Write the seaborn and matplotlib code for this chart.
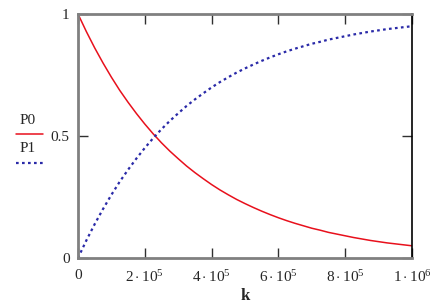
import numpy as np
import pandas as pd
import matplotlib
matplotlib.use('Agg')
import matplotlib.pyplot as plt
import seaborn as sns
from matplotlib.lines import Line2D

# values (every 25 000 in k)
k = [0, 25000, 50000, 75000, 100000, 125000, 150000, 175000, 200000, 225000, 250000,
     275000, 300000, 325000, 350000, 375000, 400000, 425000, 450000, 475000, 500000,
     525000, 550000, 575000, 600000, 625000, 650000, 675000, 700000, 725000, 750000,
     775000, 800000, 825000, 850000, 875000, 900000, 925000, 950000, 975000, 1000000]
p0 = [1.000, 0.928, 0.861, 0.799, 0.741, 0.687, 0.638, 0.592, 0.549, 0.509, 0.472,
      0.438, 0.407, 0.377, 0.350, 0.325, 0.301, 0.279, 0.259, 0.240, 0.223,
      0.207, 0.192, 0.178, 0.165, 0.153, 0.142, 0.132, 0.122, 0.114, 0.105,
      0.098, 0.091, 0.084, 0.078, 0.072, 0.067, 0.062, 0.058, 0.054, 0.050]
p1 = [0.000, 0.072, 0.139, 0.201, 0.259, 0.313, 0.362, 0.408, 0.451, 0.491, 0.528,
      0.562, 0.593, 0.623, 0.650, 0.675, 0.699, 0.721, 0.741, 0.760, 0.777,
      0.793, 0.808, 0.822, 0.835, 0.847, 0.858, 0.868, 0.878, 0.886, 0.895,
      0.902, 0.909, 0.916, 0.922, 0.928, 0.933, 0.938, 0.942, 0.946, 0.950]
x_ticks = [0, 200000, 400000, 600000, 800000, 1000000]
x_labels = ['0', r'$2\cdot10^5$', r'$4\cdot10^5$', r'$6\cdot10^5$', r'$8\cdot10^5$', r'$1\cdot10^6$']
y_ticks = [0, 0.5, 1]
y_labels = ['0', '0.5', '1']

df = pd.DataFrame({'k': k, 'P0': p0, 'P1': p1})

sns.set_style('white')
plt.rcParams['font.family'] = ['Liberation Serif', 'DejaVu Serif']
plt.rcParams['mathtext.fontset'] = 'custom'
plt.rcParams['mathtext.rm'] = 'Liberation Serif'
plt.rcParams['mathtext.it'] = 'Liberation Serif'

red = '#e8101c'
blue = '#2a2aa8'

fig = plt.figure(figsize=(4.48, 3.04), dpi=100)
ax = fig.add_axes([78 / 448, 46 / 304, 334 / 448, 244 / 304])

sns.lineplot(data=df, x='k', y='P0', color=red, lw=1.1, ax=ax)
sns.lineplot(data=df, x='k', y='P1', color=blue, lw=1.6, ax=ax)
ax.lines[1].set_dashes([1.2, 1.5])

ax.set_xlim(0, 1000000)
ax.set_ylim(0, 1)
ax.set_xticks(x_ticks)
ax.set_xticklabels(x_labels, fontsize=11)
ax.set_yticks(y_ticks)
ax.set_yticklabels(y_labels, fontsize=11)
ax.set_xlabel('k', fontsize=12, fontweight='bold', labelpad=2)
ax.set_ylabel('')

ax.tick_params(axis='x', direction='in', length=7, width=1, color='#303030',
               top=True, bottom=True, pad=8)
ax.tick_params(axis='y', direction='in', length=7, width=1, color='#303030',
               left=True, right=True, pad=6)

for side in ['left', 'top', 'bottom']:
    ax.spines[side].set_color('#808080')
    ax.spines[side].set_linewidth(2)
ax.spines['right'].set_color('black')
ax.spines['right'].set_linewidth(1.2)

# legend in the Mathcad style: name above the line sample
fig.text(28 / 448, 1 - 121 / 304, 'P0', fontsize=11, ha='center', va='center')
fig.add_artist(Line2D([16 / 448, 43 / 448], [1 - 134 / 304] * 2, color=red, lw=1.1))
fig.text(28 / 448, 1 - 148 / 304, 'P1', fontsize=11, ha='center', va='center')
fig.add_artist(Line2D([16 / 448, 43 / 448], [1 - 163 / 304] * 2, color=blue, lw=1.6,
                      dashes=[1.2, 1.5]))

fig.savefig('out.png', dpi=100)
